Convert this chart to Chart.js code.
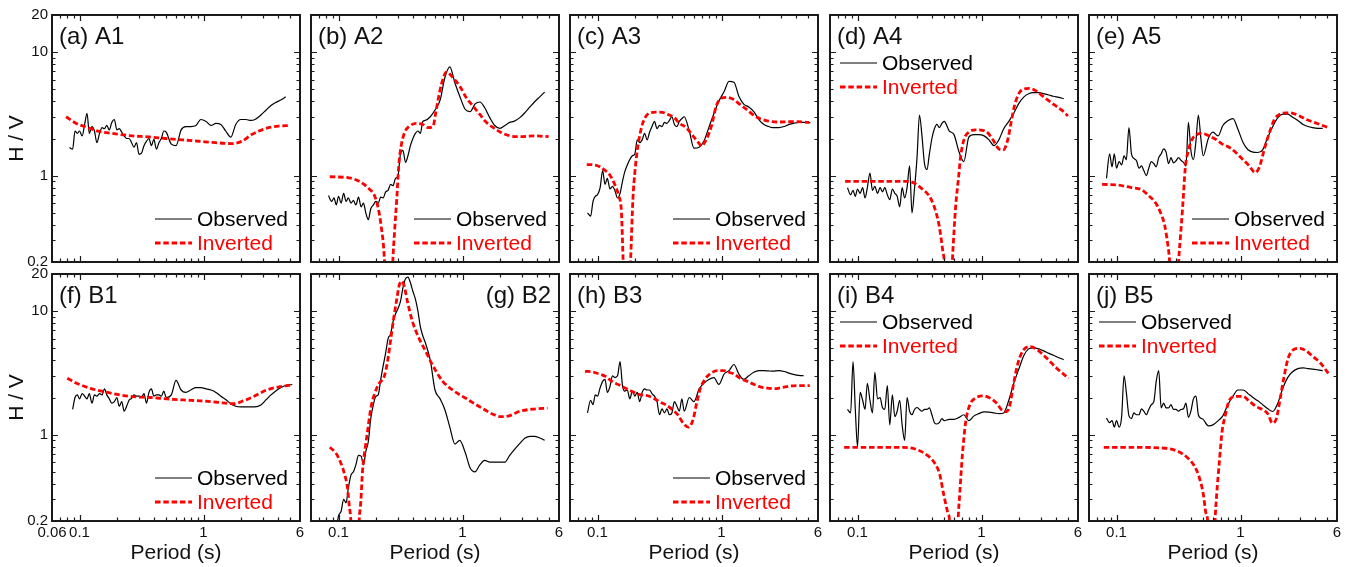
<!DOCTYPE html>
<html>
<head>
<meta charset="utf-8">
<script src="https://cdn.jsdelivr.net/npm/chart.js@4.4.0/dist/chart.umd.min.js"></script>
<style>
  html, body { margin: 0; padding: 0; background: #fff; }
  #fig { position: relative; width: 1348px; height: 567px; overflow: hidden; }
  #fig canvas { position: absolute; }
</style>
</head>
<body>
<div id="fig"></div>
<script>
// --- shared period grid for the observed H/V curves (s) ---
const periodObs = [0.083, 0.088, 0.092, 0.096, 0.100, 0.105, 0.110, 0.115, 0.120, 0.126,
  0.132, 0.138, 0.145, 0.152, 0.159, 0.166, 0.174, 0.182, 0.191, 0.200,
  0.209, 0.219, 0.229, 0.240, 0.251, 0.263, 0.275, 0.288, 0.302, 0.316,
  0.331, 0.347, 0.363, 0.380, 0.398, 0.417, 0.437, 0.457, 0.479, 0.50,
  0.55, 0.60, 0.66, 0.72, 0.79, 0.87, 0.95, 1.05, 1.15, 1.26,
  1.38, 1.51, 1.66, 1.82, 2.0, 2.2, 2.4, 2.6, 2.9, 3.2,
  3.5, 3.8, 4.2, 4.6, 5.2];

// --- observed H/V per site ---
const obsA1 = [1.69, 1.64, 2.3, 2.2, 2.3, 2.1, 2.6, 3.2, 2.2, 2.5,
  2.3, 1.85, 2.2, 2.45, 2.4, 2.55, 2.35, 2.7, 2.85, 2.35,
  2.4, 2.25, 2.1, 2.0, 2.0, 1.85, 1.7, 1.85, 1.49, 1.52,
  1.75, 1.9, 2.0, 1.75, 1.97, 1.64, 1.85, 2.0, 2.3, 2.25,
  1.8, 1.75, 2.35, 2.5, 2.5, 2.55, 2.85, 2.75, 2.55, 2.65,
  2.6, 2.3, 2.05, 2.6, 2.85, 2.85, 2.8, 2.85, 3.1, 3.4,
  3.7, 3.9, 4.1, 4.35, null];
const obsA2 = [0.69, 0.62, 0.66, 0.58, 0.68, 0.6, 0.72, 0.62, 0.66, 0.6,
  0.63, 0.58, 0.67, 0.56, 0.6, 0.5, 0.44, 0.54, 0.58, 0.62,
  0.6, 0.67, 0.66, 0.74, 0.76, 0.85, 0.83, 0.95, 1.0, 1.5,
  1.6, 1.28, 1.45, 1.75, 2.0, 2.2, 2.3, 2.2, 2.75, 2.8,
  3.0, 3.4, 4.1, 6.2, 7.6, 5.6, 4.4, 3.45, 3.3, 3.8,
  3.95, 3.55, 2.95, 2.55, 2.42, 2.55, 2.7, 2.75, 2.95, 3.25,
  3.6, 3.95, 4.35, 4.75, null];
const obsA3 = [0.5, 0.47, 0.62, 0.68, 0.7, 0.8, 1.1, 0.85, 0.95, 0.78,
  0.82, 0.76, 0.66, 0.72, 0.9, 1.08, 1.22, 1.35, 1.45, 1.5,
  1.95, 1.85, 1.95, 2.2, 1.95, 2.25, 2.5, 2.75, 2.4, 2.55,
  2.5, 2.7, 2.65, 2.8, 3.0, 2.6, 2.5, 2.75, 2.9, 3.0,
  2.3, 1.67, 1.7, 1.9, 2.45, 3.2, 4.0, 4.8, 5.8, 5.7,
  4.4, 3.8, 3.6, 3.3, 2.85, 2.6, 2.5, 2.45, 2.45, 2.5,
  2.6, 2.65, 2.7, 2.7, 2.68];
const obsA4 = [0.8, 0.7, 0.76, 0.68, 0.78, 0.72, 0.8, 0.66, 0.8, 1.05,
  0.76, 0.82, 0.72, 0.8, 0.74, 0.8, 0.7, 0.64, 0.78, 0.72,
  0.68, 0.56, 0.8, 0.66, 0.8, 1.2, 0.5, 0.78, 1.4, 3.1,
  2.1, 1.25, 1.12, 1.5, 2.0, 2.4, 2.6, 2.45, 2.65, 2.75,
  2.3, 2.15, 1.55, 1.3, 2.05, 2.15, 2.15, 2.1, 1.95, 1.75,
  1.95, 2.4, 2.75, 3.2, 3.85, 4.35, 4.6, 4.7, 4.7, 4.6,
  4.5, 4.4, 4.3, 4.2, null];
const obsA5 = [0.95, 1.5, 1.18, 1.5, 1.15, 1.3, 1.22, 1.45, 1.35, 2.45,
  1.5, 1.38, 1.32, 1.15, 1.2, 1.1, 1.0, 1.15, 1.3, 1.25,
  1.18, 1.4, 1.5, 1.65, 1.55, 1.25, 1.4, 1.27, 1.32, 1.4,
  1.33, 1.28, 1.2, 2.7, 1.6, 1.35, 1.9, 3.1, 2.0, 1.45,
  2.0, 2.25, 2.1, 2.55, 2.78, 2.9, 2.4, 1.85, 1.62, 1.55,
  1.54, 1.62, 2.05, 2.5, 2.95, 3.15, 3.15, 3.0, 2.8, 2.6,
  2.5, 2.45, 2.42, 2.42, null];
const obsB1 = [null, 1.6, 2.0, 2.1, 1.95, 2.15, 2.05, 1.95, 2.15, 1.8,
  2.1, 2.05, 2.15, 2.1, 2.35, 2.1, 1.95, 1.8, 1.85, 2.0,
  1.7, 1.85, 1.55, 1.7, 1.9, 1.97, 2.1, 2.05, 2.05, 2.0,
  2.15, 1.8, 2.2, 2.35, 2.05, 2.1, 2.1, 2.05, 2.25, 2.0,
  2.1, 2.75, 2.3, 2.2, 2.3, 2.4, 2.4, 2.35, 2.3, 2.2,
  2.05, 1.93, 1.78, 1.7, 1.68, 1.68, 1.68, 1.68, 1.74, 1.92,
  2.1, 2.25, 2.4, 2.5, 2.55];
const obsB2 = [null, null, null, 0.17, 0.22, 0.24, 0.3, 0.28, 0.37, 0.47,
  0.5, 0.57, 0.68, 0.67, 0.57, 0.73, 0.88, 1.35, 1.75, 2.04,
  2.1, 2.8, 3.6, 4.6, 6.0, 6.5, 8.2, 9.5, 10.5, 12.0,
  15.5, 18.3, 18.9, 17.0, 14.5, 12.5, 10.0, 7.5, 6.3, 5.6,
  4.0, 2.3, 1.95, 1.6, 1.15, 0.84, 0.9, 0.72, 0.54, 0.5,
  0.57, 0.62, 0.6, 0.6, 0.6, 0.6, 0.68, 0.75, 0.85, 0.94,
  0.97, 0.97, 0.94, 0.9, null];
const obsB3 = [1.5, 1.9, 1.75, 2.1, 2.05, 2.4, 2.7, 2.8, 2.2, 2.45,
  3.0, 2.9, 3.0, 3.9, 2.5, 2.25, 2.3, 1.95, 2.25, 2.05,
  2.2, 1.85, 2.2, 2.35, 2.3, 2.3, 2.15, 2.05, 1.85, 1.45,
  1.62, 1.5, 1.62, 1.45, 1.5, 1.85, 1.7, 1.55, 1.95, 1.55,
  2.0, 1.85, 2.35, 2.6, 2.8, 2.9, 2.55, 3.1, 3.3, 3.7,
  3.1, 2.8, 3.0, 3.2, 3.3, 3.3, 3.28, 3.27, 3.3, 3.25,
  3.15, 3.08, 3.02, 3.0, null];
const obsB4 = [1.6, 1.5, 3.9, 1.6, 0.8, 2.2, 1.9, 1.6, 2.6, 1.9,
  1.5, 3.2, 1.95, 2.0, 1.65, 1.6, 2.5, 1.2, 2.1, 1.4,
  1.55, 1.9, 1.2, 0.9, 2.0, 1.55, 1.45, 1.6, 1.66, 1.6,
  1.55, 1.6, 1.6, 1.65, 1.45, 1.25, 1.22, 1.25, 1.35, 1.3,
  1.33, 1.33, 1.38, 1.45, 1.3, 1.42, 1.48, 1.53, 1.52, 1.5,
  1.48, 1.5, 1.9, 2.6, 3.4, 4.4, 4.95, 5.05, 4.95, 4.75,
  4.55, 4.4, 4.2, 4.05, null];
const obsB5 = [1.36, 1.25, 1.3, 1.15, 1.3, 1.15, 1.4, 3.0, 2.2, 1.42,
  1.35, 1.5, 1.45, 1.45, 1.62, 1.55, 1.45, 1.6, 1.75, 1.85,
  2.7, 3.3, 1.65, 1.8, 1.65, 1.65, 1.75, 1.6, 1.6, 1.55,
  1.6, 1.62, 1.8, 1.38, 1.55, 1.95, 2.05, 1.45, 1.36, 1.33,
  1.18, 1.2, 1.3, 1.42, 1.75, 2.05, 2.3, 2.3, 2.15, 2.0,
  1.88, 1.75, 1.62, 1.54, 1.8, 2.4, 2.9, 3.2, 3.43, 3.48,
  3.43, 3.4, 3.35, 3.3, null];

// --- inverted H/V per site (period, value) ---
const invA1T = [0.078, 0.094, 0.117, 0.144, 0.196, 0.267, 0.363, 0.495, 0.673, 0.916, 1.25, 1.7, 2.04, 2.46, 3.14, 4.03, 5.0];
const invA1 = [3.0, 2.65, 2.45, 2.28, 2.18, 2.1, 2.06, 2.0, 1.95, 1.9, 1.85, 1.82, 1.9, 2.16, 2.4, 2.52, 2.55];
const invA2T = [0.0851, 0.122, 0.147, 0.177, 0.195, 0.207, 0.22, 0.235, 0.254, 0.274, 0.283, 0.295, 0.306, 0.32, 0.341, 0.374, 0.424, 0.48, 0.527, 0.578, 0.608, 0.635, 0.676, 0.742, 0.84, 0.951, 1.077, 1.22, 1.38, 1.57, 1.77, 2.01, 2.42, 2.92, 3.74, 4.95];
const invA2 = [0.98, 0.96, 0.9, 0.78, 0.69, 0.57, 0.4, 0.2, 0.02, 0.2, 0.35, 0.65, 1.2, 1.74, 2.23, 2.52, 2.65, 2.6, 2.45, 2.5, 3.23, 4.1, 5.5, 6.9, 6.2, 5.3, 4.25, 3.65, 3.13, 2.68, 2.45, 2.26, 2.1, 2.07, 2.1, 2.07];
const invA3T = [0.0819, 0.0957, 0.1155, 0.1268, 0.139, 0.148, 0.156, 0.161, 0.171, 0.1847, 0.193, 0.2, 0.2066, 0.216, 0.23, 0.2525, 0.295, 0.334, 0.379, 0.417, 0.457, 0.519, 0.588, 0.666, 0.687, 0.755, 0.829, 0.91, 1.0, 1.1, 1.245, 1.41, 1.6, 1.81, 2.05, 2.48, 2.99, 3.84, 5.09];
const invA3 = [1.23, 1.22, 1.1, 1.0, 0.83, 0.69, 0.5, 0.2, 0.03, 0.2, 0.65, 1.06, 1.45, 1.97, 2.6, 3.13, 3.27, 3.25, 3.1, 2.95, 2.66, 2.45, 2.1, 1.8, 1.74, 1.97, 2.52, 3.7, 4.25, 4.3, 4.15, 3.77, 3.43, 3.1, 2.89, 2.75, 2.72, 2.74, 2.7];
const invA4T = [0.0794, 0.1228, 0.1676, 0.259, 0.2935, 0.3325, 0.3765, 0.413, 0.454, 0.489, 0.501, 0.54, 0.582, 0.6, 0.619, 0.651, 0.68, 0.723, 0.794, 0.899, 1.019, 1.119, 1.228, 1.39, 1.5, 1.63, 1.73, 1.84, 2.02, 2.22, 2.43, 2.76, 3.12, 3.54, 4.01, 4.54, 4.98];
const invA4 = [0.9, 0.9, 0.9, 0.9, 0.86, 0.78, 0.69, 0.57, 0.4, 0.24, 0.2, 0.02, 0.2, 0.35, 0.57, 0.94, 1.45, 1.97, 2.26, 2.35, 2.33, 2.23, 1.97, 1.64, 1.62, 1.97, 2.68, 3.65, 4.7, 5.05, 5.1, 4.85, 4.4, 4.0, 3.65, 3.33, 3.04];
const invA5T = [0.0765, 0.1032, 0.1324, 0.1597, 0.181, 0.205, 0.225, 0.244, 0.26, 0.268, 0.2926, 0.317, 0.327, 0.342, 0.359, 0.3825, 0.407, 0.447, 0.491, 0.556, 0.63, 0.714, 0.809, 0.916, 1.038, 1.176, 1.316, 1.418, 1.557, 1.71, 1.878, 2.063, 2.337, 2.648, 3.0, 3.4, 3.85, 4.36, 5.1];
const invA5 = [0.85, 0.84, 0.8, 0.77, 0.69, 0.61, 0.51, 0.4, 0.27, 0.2, 0.02, 0.2, 0.31, 0.57, 1.17, 1.64, 1.97, 2.16, 2.2, 2.1, 1.97, 1.8, 1.7, 1.54, 1.36, 1.2, 1.06, 1.17, 1.64, 2.23, 2.86, 3.13, 3.23, 3.2, 3.04, 2.85, 2.72, 2.6, 2.45];
const invB1T = [0.0796, 0.0957, 0.1226, 0.157, 0.201, 0.2735, 0.3724, 0.507, 0.69, 0.94, 1.28, 1.74, 2.1, 2.52, 3.23, 4.14, 5.04];
const invB1 = [2.86, 2.6, 2.37, 2.23, 2.12, 2.03, 2.0, 1.95, 1.91, 1.88, 1.83, 1.78, 1.88, 2.03, 2.3, 2.45, 2.52];
const invB2T = [0.0851, 0.0952, 0.1044, 0.1111, 0.1182, 0.1219, 0.1257, 0.1363, 0.1468, 0.1514, 0.1562, 0.1641, 0.1714, 0.1823, 0.1939, 0.2128, 0.2335, 0.2484, 0.2642, 0.2811, 0.2954, 0.3085, 0.3242, 0.3385, 0.3601, 0.3953, 0.4472, 0.506, 0.5729, 0.6898, 0.8307, 1.064, 1.363, 1.746, 2.038, 2.379, 2.864, 3.669, 4.85];
const invB2 = [0.79, 0.71, 0.59, 0.49, 0.37, 0.27, 0.2, 0.02, 0.2, 0.29, 0.51, 0.78, 1.06, 1.64, 2.1, 2.6, 2.95, 3.9, 6.0, 9.3, 12.6, 16.2, 17.5, 16.0, 11.9, 8.2, 6.0, 4.7, 3.66, 2.72, 2.3, 1.97, 1.69, 1.47, 1.4, 1.42, 1.54, 1.61, 1.64];
const invB3T = [0.0793, 0.091, 0.1032, 0.117, 0.1325, 0.1502, 0.1702, 0.193, 0.2187, 0.2477, 0.2807, 0.3182, 0.3606, 0.4087, 0.4489, 0.4931, 0.5417, 0.5875, 0.6333, 0.6744, 0.7408, 0.8137, 0.9219, 1.045, 1.148, 1.26, 1.428, 1.619, 1.835, 2.079, 2.357, 2.671, 3.027, 3.652, 4.406, 5.15];
const invB3 = [3.26, 3.22, 3.1, 2.95, 2.67, 2.52, 2.36, 2.22, 2.11, 2.08, 1.98, 1.84, 1.73, 1.57, 1.43, 1.23, 1.15, 1.31, 1.84, 2.36, 2.84, 3.12, 3.3, 3.3, 3.2, 3.1, 2.84, 2.7, 2.55, 2.43, 2.38, 2.36, 2.4, 2.48, 2.5, 2.5];
const invB4T = [0.078, 0.1243, 0.2317, 0.2972, 0.3581, 0.4184, 0.4594, 0.4951, 0.5367, 0.5536, 0.6003, 0.6469, 0.6673, 0.7013, 0.7464, 0.8043, 0.911, 1.032, 1.168, 1.323, 1.453, 1.595, 1.697, 1.806, 1.983, 2.177, 2.466, 2.792, 3.365, 4.057, 5.043];
const invB4 = [0.79, 0.79, 0.79, 0.76, 0.69, 0.59, 0.48, 0.33, 0.23, 0.2, 0.02, 0.2, 0.33, 0.69, 1.28, 1.74, 2.0, 2.06, 1.98, 1.8, 1.59, 1.54, 1.75, 2.53, 3.9, 4.85, 5.17, 4.9, 4.15, 3.44, 2.86];
const invB5T = [0.0789, 0.1259, 0.2346, 0.2828, 0.3408, 0.3859, 0.4236, 0.4651, 0.5012, 0.5268, 0.5434, 0.5783, 0.6232, 0.6429, 0.6757, 0.7101, 0.7556, 0.8143, 0.9224, 1.0445, 1.183, 1.34, 1.517, 1.666, 1.806, 1.946, 2.071, 2.232, 2.42, 2.657, 3.008, 3.407, 3.859, 4.371, 5.107];
const invB5 = [0.79, 0.79, 0.78, 0.76, 0.7, 0.63, 0.56, 0.45, 0.33, 0.23, 0.2, 0.02, 0.2, 0.33, 0.61, 1.06, 1.45, 1.91, 2.04, 2.04, 1.86, 1.69, 1.59, 1.47, 1.24, 1.35, 1.86, 2.86, 4.15, 4.85, 5.0, 4.75, 4.27, 3.85, 3.14];

// --- axes ---
const xLabelsFirst = [0.06, 0.1, 1, 6];
const xLabels = [0.1, 1, 6];
const yLabels = [0.2, 1, 10, 20];
const xMajor = [0.1, 1];
const xMinor = [0.07, 0.08, 0.09, 0.2, 0.3, 0.4, 0.5, 0.6, 0.7, 0.8, 0.9, 2, 3, 4, 5];
const yMajor = [1, 10];
const yMinor = [0.3, 0.4, 0.5, 0.6, 0.7, 0.8, 0.9, 2, 3, 4, 5, 6, 7, 8, 9];

const panels = [
  { label: '(a) A1', obs: obsA1, invT: invA1T, inv: invA1, legend: 'br' },
  { label: '(b) A2', obs: obsA2, invT: invA2T, inv: invA2, legend: 'br' },
  { label: '(c) A3', obs: obsA3, invT: invA3T, inv: invA3, legend: 'br' },
  { label: '(d) A4', obs: obsA4, invT: invA4T, inv: invA4, legend: 'tl' },
  { label: '(e) A5', obs: obsA5, invT: invA5T, inv: invA5, legend: 'br' },
  { label: '(f) B1', obs: obsB1, invT: invB1T, inv: invB1, legend: 'br' },
  { label: '(g) B2', obs: obsB2, invT: invB2T, inv: invB2, legend: null, right: true },
  { label: '(h) B3', obs: obsB3, invT: invB3T, inv: invB3, legend: 'br' },
  { label: '(i) B4', obs: obsB4, invT: invB4T, inv: invB4, legend: 'tl' },
  { label: '(j) B5', obs: obsB5, invT: invB5T, inv: invB5, legend: 'tl' }
];

const FONT = "'Liberation Sans', Arial, Helvetica, sans-serif";
Chart.defaults.font.family = FONT;
Chart.defaults.color = '#111';

// panel plot areas on the page
const colLeft = [52, 311, 570, 830, 1089];
const rowTop = [15, 274];
const W = 248, H = 247;

// box, inward ticks, panel label and legend
const framePlugin = {
  id: 'frame',
  afterDatasetsDraw(chart, args, opts) {
    const { ctx, chartArea: a } = chart;
    const sx = chart.scales.x, sy = chart.scales.y;
    ctx.save();
    ctx.strokeStyle = '#1a1a1a';
    ctx.lineWidth = 1.2;
    ctx.beginPath();
    const xt = (v, len) => {
      const px = Math.round(sx.getPixelForValue(v)) + 0.5;
      ctx.moveTo(px, a.top); ctx.lineTo(px, a.top + len);
      ctx.moveTo(px, a.bottom); ctx.lineTo(px, a.bottom - len);
    };
    const yt = (v, len) => {
      const py = Math.round(sy.getPixelForValue(v)) + 0.5;
      ctx.moveTo(a.left, py); ctx.lineTo(a.left + len, py);
      ctx.moveTo(a.right, py); ctx.lineTo(a.right - len, py);
    };
    xMajor.forEach(v => xt(v, 6));
    xMinor.forEach(v => xt(v, 3.5));
    yMajor.forEach(v => yt(v, 6));
    yMinor.forEach(v => yt(v, 3.5));
    ctx.stroke();
    ctx.lineWidth = 2;
    ctx.strokeRect(a.left, a.top, a.right - a.left, a.bottom - a.top);

    ctx.fillStyle = '#111';
    ctx.font = '24px ' + FONT;
    ctx.textBaseline = 'alphabetic';
    if (opts.right) {
      ctx.textAlign = 'right';
      ctx.fillText(opts.label, a.right - 8, a.top + 29);
    } else {
      ctx.textAlign = 'left';
      ctx.fillText(opts.label, a.left + 7, a.top + 29);
    }

    if (opts.legend) {
      let tx, rows;
      if (opts.legend === 'br') {
        tx = a.left + 145; rows = [a.bottom - 43, a.bottom - 19];
      } else {
        tx = a.left + 52; rows = [a.top + 48, a.top + 72];
      }
      ctx.font = '21px ' + FONT;
      ctx.textAlign = 'left';
      ctx.textBaseline = 'middle';
      chart.data.datasets.forEach((ds, i) => {
        const y = rows[i];
        ctx.beginPath();
        ctx.strokeStyle = ds.borderColor;
        ctx.lineWidth = ds.borderWidth;
        ctx.setLineDash(ds.borderDash || []);
        ctx.moveTo(tx - 42, y); ctx.lineTo(tx - 5, y);
        ctx.stroke();
        ctx.setLineDash([]);
        ctx.fillStyle = ds.borderColor;
        ctx.fillText(ds.label, tx, y + 1);
      });
    }
    ctx.restore();
  }
};

const fig = document.getElementById('fig');

panels.forEach((p, k) => {
  const col = k % 5, row = Math.floor(k / 5);
  const L = colLeft[col], T = rowTop[row];
  const cx = col === 0 ? 0 : L - 8;
  const cy = T - 10;
  const xAxisH = row === 1 ? 46 : 0;
  const yAxisW = col === 0 ? L : 0;
  const w = (L - cx) + W + 8;
  const h = 10 + H + (row === 1 ? xAxisH : 10);
  const cv = document.createElement('canvas');
  cv.width = w; cv.height = h;
  cv.style.left = cx + 'px'; cv.style.top = cy + 'px';
  fig.appendChild(cv);

  new Chart(cv, {
    type: 'line',
    data: {
      datasets: [
        {
          label: 'Observed',
          data: periodObs.map((t, i) => ({ x: t, y: p.obs[i] })),
          borderColor: '#000000',
          borderWidth: 1.2,
          pointRadius: 0,
          cubicInterpolationMode: 'monotone',
          order: 1
        },
        {
          label: 'Inverted',
          data: p.invT.map((t, i) => ({ x: t, y: p.inv[i] })),
          borderColor: '#ff0000',
          borderWidth: 2.8,
          borderDash: [5.5, 2.8],
          pointRadius: 0,
          cubicInterpolationMode: 'monotone',
          order: 0
        }
      ]
    },
    options: {
      responsive: false,
      animation: false,
      devicePixelRatio: 1,
      events: [],
      layout: { padding: { left: col === 0 ? 0 : 8, right: 8, top: 10, bottom: row === 1 ? 0 : 10 } },
      plugins: {
        legend: { display: false },
        tooltip: { enabled: false },
        frame: { label: p.label, right: !!p.right, legend: p.legend }
      },
      scales: {
        x: {
          type: 'logarithmic',
          min: 0.06, max: 6,
          display: row === 1,
          grid: { display: false, drawTicks: false },
          border: { display: false },
          afterBuildTicks: s => { s.ticks = (col === 0 ? xLabelsFirst : xLabels).map(v => ({ value: v })); },
          afterFit: s => { s.height = xAxisH; s.paddingLeft = 0; s.paddingRight = 0; },
          ticks: { autoSkip: false, maxRotation: 0, minRotation: 0, padding: 3, color: '#111', font: { size: 15 }, callback: v => String(v) },
          title: { display: true, text: 'Period (s)', color: '#111', font: { size: 21 }, padding: { top: 0, bottom: 1 } }
        },
        y: {
          type: 'logarithmic',
          min: 0.2, max: 20,
          display: col === 0,
          grid: { display: false, drawTicks: false },
          border: { display: false },
          afterBuildTicks: s => { s.ticks = yLabels.map(v => ({ value: v })); },
          afterFit: s => { s.width = yAxisW; s.paddingTop = 0; s.paddingBottom = 0; },
          ticks: { autoSkip: false, padding: 4, color: '#111', font: { size: 15 }, callback: v => String(v) },
          title: { display: true, text: 'H / V', color: '#111', font: { size: 21 }, padding: { top: 5, bottom: 0 } }
        }
      }
    },
    plugins: [framePlugin]
  });
});
</script>
</body>
</html>
